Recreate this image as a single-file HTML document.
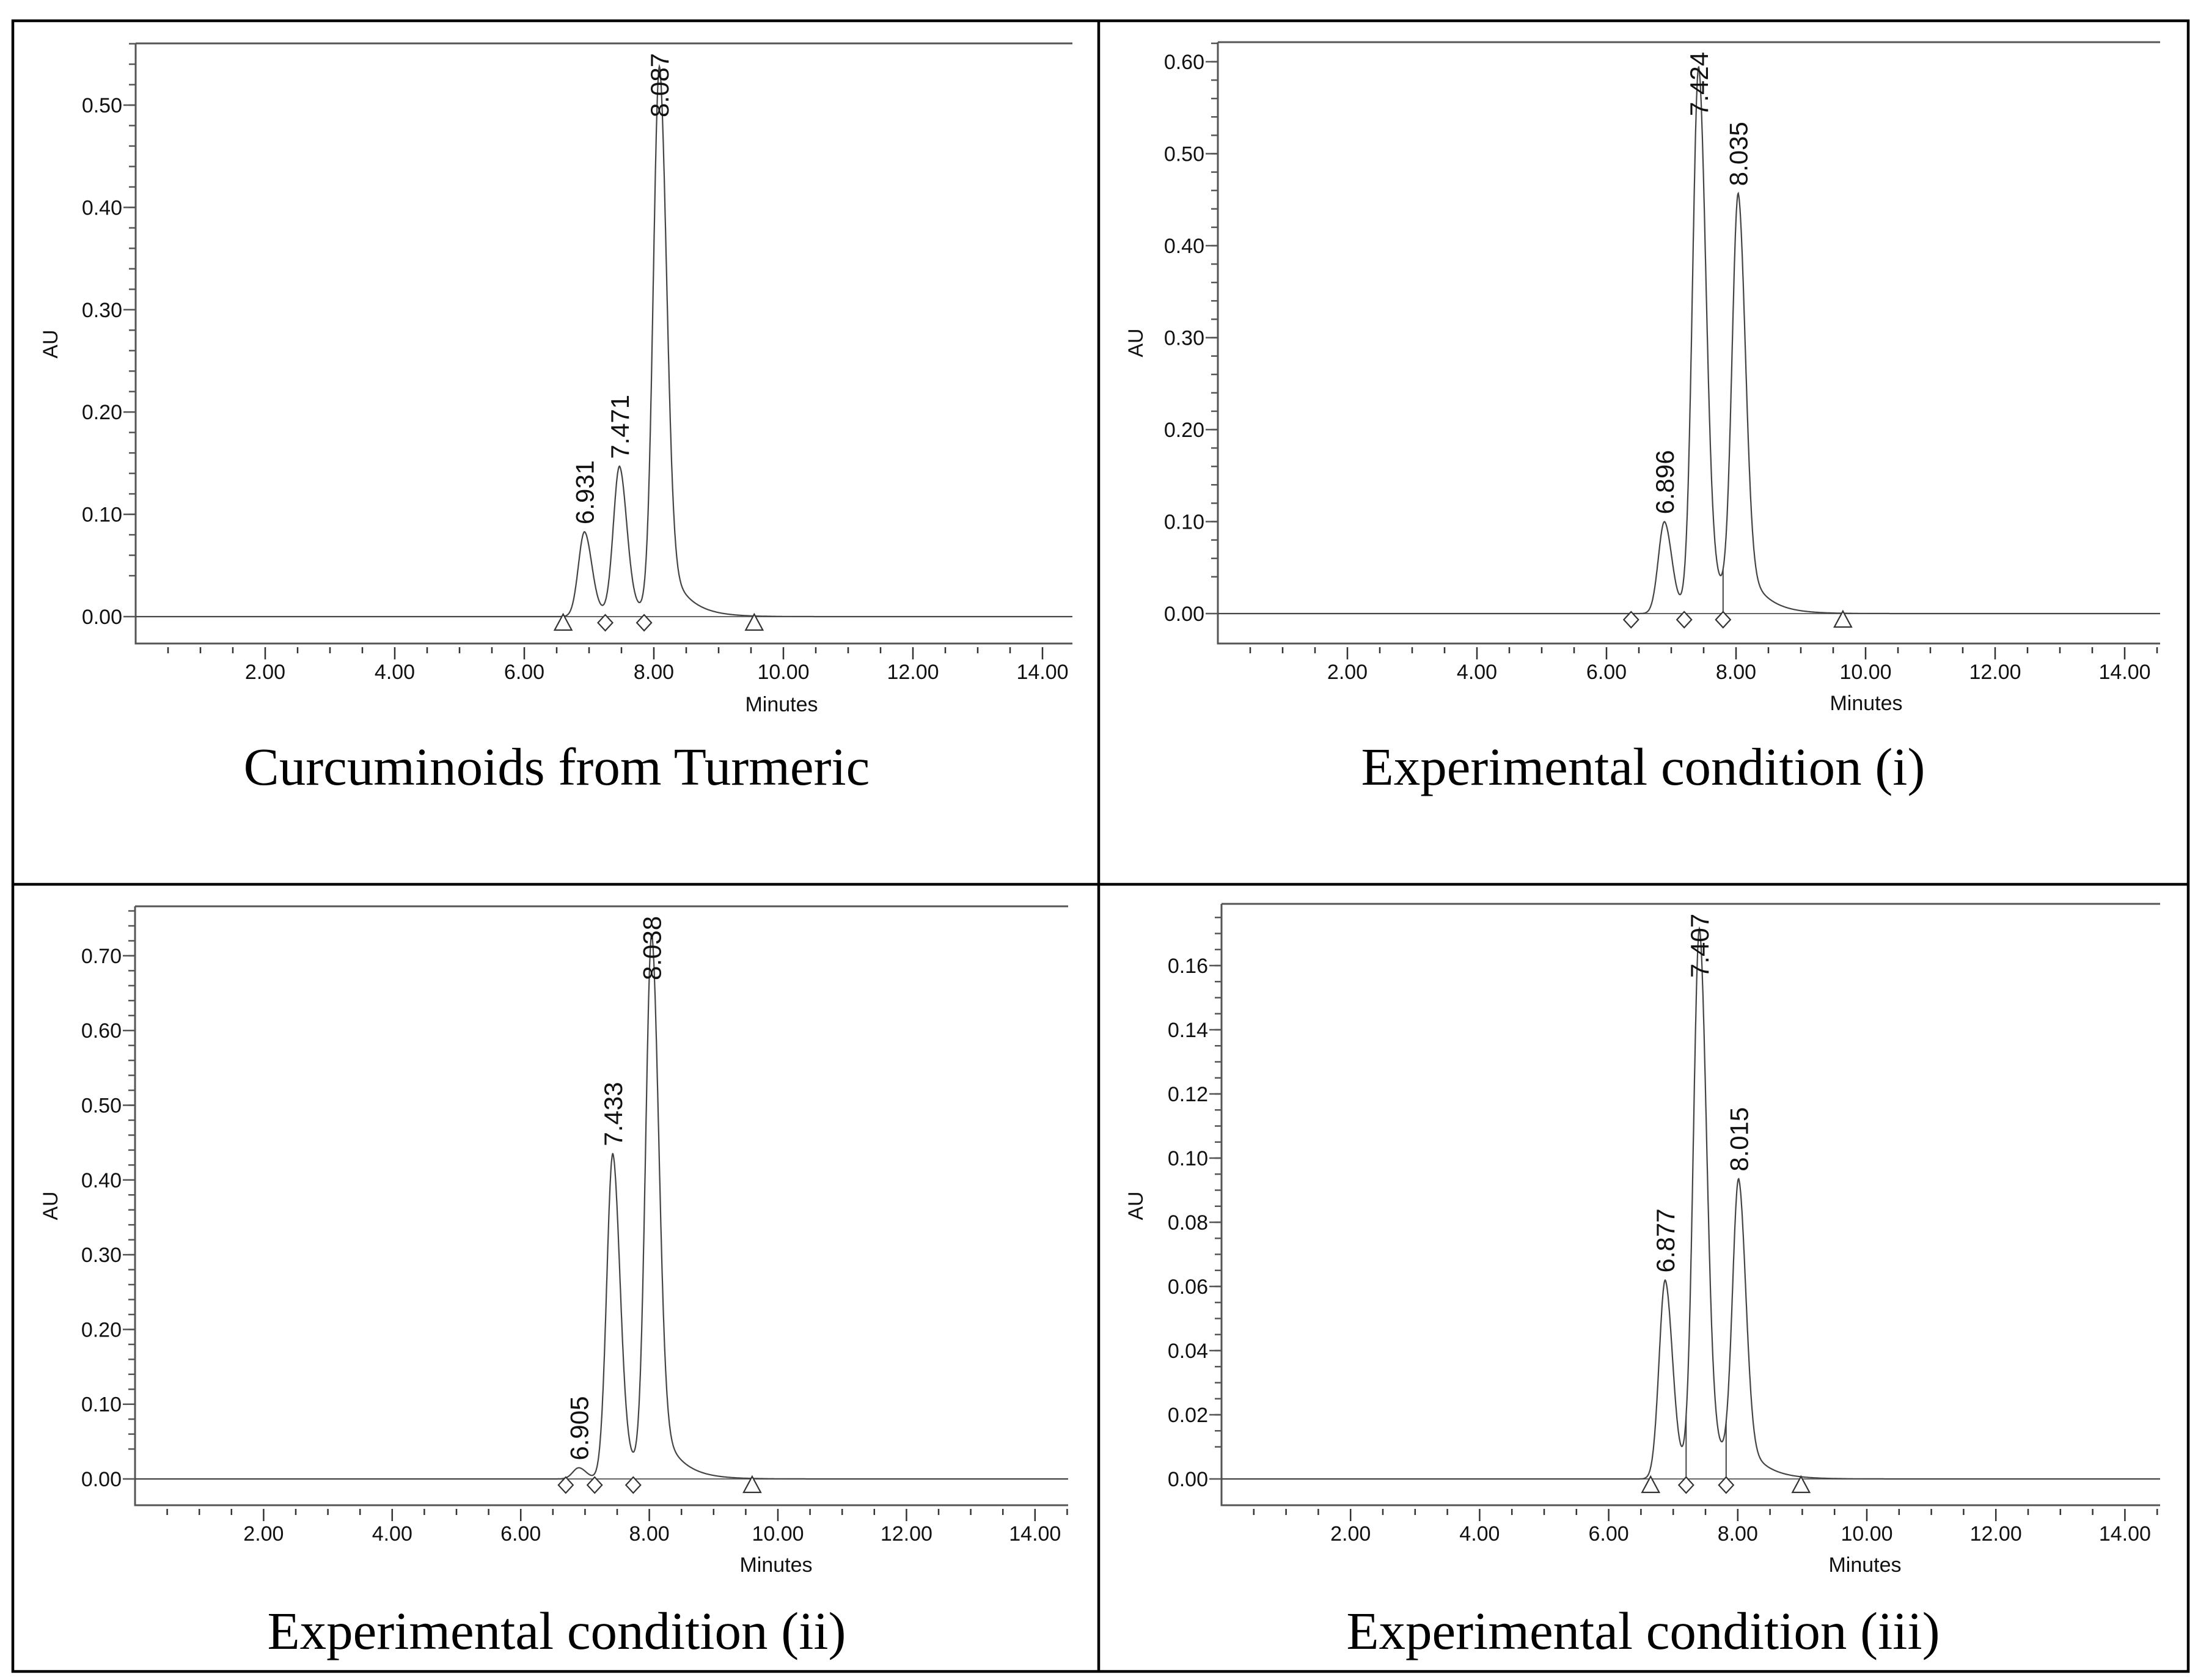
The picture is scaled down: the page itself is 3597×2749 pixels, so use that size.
<!DOCTYPE html>
<html><head><meta charset="utf-8"><style>
html,body{margin:0;padding:0;background:#fff}
svg{display:block}
.tk{font-family:"Liberation Sans",Arial,sans-serif;font-size:34px;fill:#111}
.cap{font-family:"Liberation Serif",serif;font-size:87px;fill:#000}
.pk{font-family:"Liberation Sans",Arial,sans-serif;font-size:42px;fill:#111}
</style></head><body>
<svg id="fig" width="3597" height="2749" viewBox="0 0 3597 2749" xmlns="http://www.w3.org/2000/svg">
<rect x="0" y="0" width="3597" height="2749" fill="#fff"/>
<g stroke="#000" stroke-width="4.5" fill="none">
<rect x="21" y="34" width="3560" height="2701"/>
<line x1="1798" y1="34" x2="1798" y2="2735"/>
<line x1="21" y1="1447" x2="3581" y2="1447"/>
</g>
</svg>
<script>
// ---- data ----
const panelTitles = ["Curcuminoids from Turmeric","Experimental condition (i)","Experimental condition (ii)","Experimental condition (iii)"];
const p1Times = [6.931, 7.471, 8.087];
const p1Heights = [0.083, 0.145, 0.535];
const p1Labels = ["6.931","7.471","8.087"];
const p2Times = [6.896, 7.424, 8.035];
const p2Heights = [0.100, 0.592, 0.445];
const p2Labels = ["6.896","7.424","8.035"];
const p3Times = [6.905, 7.433, 8.038];
const p3Heights = [0.015, 0.435, 0.720];
const p3Labels = ["6.905","7.433","8.038"];
const p4Times = [6.877, 7.407, 8.015];
const p4Heights = [0.062, 0.170, 0.090];
const p4Labels = ["6.877","7.407","8.015"];
const p1Markers = [[6.60,"t"],[7.25,"d"],[7.85,"d"],[9.55,"t"]];
const p2Markers = [[6.38,"d"],[7.20,"d"],[7.80,"d"],[9.65,"t"]];
const p3Markers = [[6.70,"d"],[7.15,"d"],[7.75,"d"],[9.60,"t"]];
const p4Markers = [[6.65,"t"],[7.20,"d"],[7.82,"d"],[8.98,"t"]];
const p2Drops = [7.80];
const p4Drops = [7.20, 7.82];
const yTicks1 = [0,0.1,0.2,0.3,0.4,0.5];
const yTicks2 = [0,0.1,0.2,0.3,0.4,0.5,0.6];
const yTicks3 = [0,0.1,0.2,0.3,0.4,0.5,0.6,0.7];
const yTicks4 = [0,0.02,0.04,0.06,0.08,0.10,0.12,0.14,0.16];
const xTicks = [2,4,6,8,10,12,14];

const panels = [
 {times:p1Times,heights:p1Heights,labels:p1Labels,markers:p1Markers,drops:[],yt:yTicks1,ax:222,top:71,right:1755,bottom:1053,y0:1009,ypx:1674,yminor:0.02,xpx:106,title:panelTitles[0],cx:911,cy:1284,mx:1279,my:1164,aux:94,auy:563},
 {times:p2Times,heights:p2Heights,labels:p2Labels,markers:p2Markers,drops:p2Drops,yt:yTicks2,ax:1993,top:69,right:3535,bottom:1053,y0:1004,ypx:1505,yminor:0.02,xpx:106,title:panelTitles[1],cx:2689,cy:1284,mx:3054,my:1162,aux:1870,auy:561},
 {times:p3Times,heights:p3Heights,labels:p3Labels,markers:p3Markers,drops:[],yt:yTicks3,ax:221,top:1483,right:1748,bottom:2463,y0:2420,ypx:1223,yminor:0.02,xpx:105.2,title:panelTitles[2],cx:911,cy:2698,mx:1270,my:2572,aux:94,auy:1973},
 {times:p4Times,heights:p4Heights,labels:p4Labels,markers:p4Markers,drops:p4Drops,yt:yTicks4,ax:1999,top:1479,right:3535,bottom:2463,y0:2420,ypx:5250,yminor:0.005,xpx:105.6,title:panelTitles[3],cx:2689,cy:2698,mx:3052,my:2572,aux:1870,auy:1973}
];
const NS="http://www.w3.org/2000/svg";
const svg=document.getElementById('fig');
function mk(tag,attrs,parent){const e=document.createElementNS(NS,tag);for(const k in attrs)e.setAttribute(k,attrs[k]);(parent||svg).appendChild(e);return e;}
function peakVal(t,rt,h){const d=t-rt;if(d<0)return h*Math.exp(-0.5*(d/0.095)**2);return h*(0.85*Math.exp(-0.5*(d/0.11)**2)+0.15*Math.exp(-d/0.3));}
panels.forEach((p,pi)=>{
 const g=mk('g',{});
 
 
 const X=t=>p.ax+t*p.xpx;
 const Y=v=>p.y0-v*p.ypx;
 const sig=t=>{let s=0;for(let i=0;i<p.times.length;i++)s+=peakVal(t,p.times[i],p.heights[i]);return s;};
 const axes=mk('path',{d:`M${p.ax},${p.top} V${p.bottom} H${p.right} M${p.ax},${p.top} H${p.right}`,stroke:'#555','stroke-width':3,fill:'none'},g);
 
 
 const vmin=(p.y0-p.bottom)/p.ypx, vmax=(p.y0-p.top)/p.ypx;
 for(let k=Math.ceil(-vmin/p.yminor-1e-6);k*p.yminor<=vmax+1e-9;k++){
  const v=k*p.yminor;const y=Y(v);
  mk('line',{x1:p.ax-11,x2:p.ax,y1:y,y2:y,stroke:'#555','stroke-width':2.5},g);
 }
 p.yt.forEach(v=>{
  const y=Y(v);
  mk('line',{x1:p.ax-20,x2:p.ax,y1:y,y2:y,stroke:'#555','stroke-width':2.5},g);
  const t=mk('text',{x:p.ax-22,y:y+12,'text-anchor':'end',class:'tk'},g);
  
  
  t.textContent=v.toFixed(2);
 });
 for(let m=0.5;X(m)<=p.right+1;m+=0.5){
  const x=X(m);const major=Math.abs(m/2-Math.round(m/2))<1e-6;
  mk('line',{x1:x,x2:x,y1:p.bottom+6,y2:p.bottom+(major?26:16),stroke:'#333','stroke-width':2.5},g);
 }
 xTicks.forEach(m=>{
  const t=mk('text',{x:X(m),y:p.bottom+58,'text-anchor':'middle',class:'tk'},g);
  
  
  t.textContent=m.toFixed(2);
 });
 const xt=mk('text',{x:p.mx,y:p.my,'text-anchor':'middle',class:'tk'},g);
 
 
 xt.textContent='Minutes';
 const yt=mk('text',{x:p.aux,y:p.auy,'text-anchor':'middle',class:'tk',transform:`rotate(-90 ${p.aux} ${p.auy})`},g);
 
 
 yt.textContent='AU';
 const bl=mk('line',{x1:p.ax,x2:p.right,y1:Y(0),y2:Y(0),stroke:'#666','stroke-width':2},g);
 
 
 let pts=[];
 const tmax=(p.right-p.ax)/p.xpx;
 for(let t=0;t<=tmax;t+=0.005){pts.push(X(t).toFixed(1)+','+Y(sig(t)).toFixed(1));}
 const tr=mk('polyline',{points:pts.join(' '),fill:'none',stroke:'#444','stroke-width':2.2},g);
 
 
 p.drops.forEach(t=>{
  const d=mk('line',{x1:X(t),x2:X(t),y1:Y(0),y2:Y(sig(t)),stroke:'#444','stroke-width':2},g);
  
  
 });
 p.markers.forEach(([t,type])=>{
  const x=X(t), c=Y(0)+10;
  let e;
  if(type==='t') e=mk('path',{d:`M${x},${c-14} L${x+14},${c+12} L${x-14},${c+12} Z`,fill:'#fff',stroke:'#333','stroke-width':2.2},g);
  else e=mk('path',{d:`M${x},${c-13} L${x+12},${c} L${x},${c+13} L${x-12},${c} Z`,fill:'#fff',stroke:'#333','stroke-width':2.2},g);
  
  
 });
 p.times.forEach((rt,i)=>{
  const x=X(rt); const py=Y(sig(rt));
  const len=p.labels[i].length*23+6;
  let bottom=py-12;
  if(bottom-len<p.top) bottom=p.top+len;
  const t=mk('text',{x:x,y:bottom,class:'pk',transform:`rotate(-90 ${x} ${bottom}) translate(0 15)`},g);
  
  
  t.textContent=p.labels[i];
 });
 const cap=mk('text',{x:p.cx,y:p.cy,'text-anchor':'middle',class:'cap'},g);
 
 
 cap.textContent=p.title;
});
</script>
</body></html>
